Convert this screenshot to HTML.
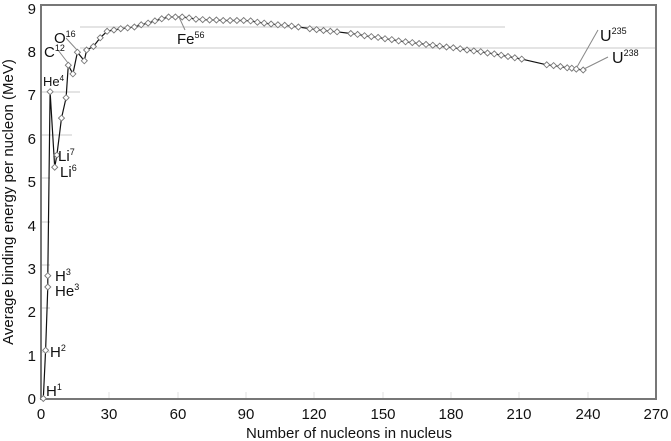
<!DOCTYPE html>
<html><head><meta charset="utf-8"><style>
html,body{margin:0;padding:0;background:#fff;}
svg{display:block;font-family:"Liberation Sans",sans-serif;}
</style></head><body>
<svg width="671" height="441" xmlns="http://www.w3.org/2000/svg">
<defs>
<marker id="m" markerUnits="userSpaceOnUse" markerWidth="8" markerHeight="8" refX="4" refY="4" overflow="visible">
<path d="M1,4 L4,1 L7,4 L4,7 Z" fill="#fff" stroke="#777" stroke-width="0.9"/>
</marker>
</defs>
<rect x="0" y="0" width="671" height="441" fill="#fff"/>
<g stroke="#c8c8c8" stroke-width="1">
<line x1="80" y1="27" x2="505" y2="27"/>
<line x1="80" y1="48" x2="655" y2="48"/>
<line x1="41" y1="92" x2="80" y2="92"/>
<line x1="41" y1="135" x2="72" y2="135"/>
<line x1="41" y1="178" x2="50" y2="178"/>
<line x1="41" y1="222" x2="50" y2="222"/>
<line x1="41" y1="265" x2="50" y2="265"/>
<line x1="41" y1="308" x2="50" y2="308"/>
<line x1="41" y1="352" x2="50" y2="352"/>
</g>
<g stroke="#e0e0e0" stroke-width="1">
<line x1="109" y1="392" x2="109" y2="398"/><line x1="178" y1="392" x2="178" y2="398"/><line x1="246" y1="392" x2="246" y2="398"/><line x1="314" y1="392" x2="314" y2="398"/><line x1="383" y1="392" x2="383" y2="398"/><line x1="451" y1="392" x2="451" y2="398"/><line x1="519" y1="392" x2="519" y2="398"/><line x1="588" y1="392" x2="588" y2="398"/>
</g>
<g stroke="#777" stroke-width="2">
<line x1="41" y1="5" x2="656" y2="5"/>
<line x1="656" y1="4" x2="656" y2="399"/>
<line x1="41" y1="4" x2="41" y2="399"/>
<line x1="40" y1="399" x2="657" y2="399"/>
</g>
<path fill="none" stroke="#111" stroke-width="1.2" marker-start="url(#m)" marker-mid="url(#m)" marker-end="url(#m)"
d="M43.3,398.5 L45.6,350.3 L47.8,287.0 L47.8,275.7 L50.1,91.7 L54.7,167.2 L56.9,155.0 L61.5,118.1 L66.1,97.7 L68.3,65.2 L72.9,73.9 L77.4,52.2 L84.3,60.8 L86.6,50.0 L93.4,46.5 L100.2,37.8 L107.1,31.3 L113.9,30.0 L120.7,28.7 L127.6,27.9 L134.4,27.0 L141.2,24.8 L148.1,23.1 L154.9,20.9 L161.7,18.8 L168.6,17.0 L175.4,17.0 L182.2,17.0 L189.1,17.9 L195.9,19.2 L202.7,19.6 L209.6,20.0 L216.4,20.0 L223.2,20.5 L230.1,20.5 L236.9,20.5 L243.7,20.5 L250.6,20.9 L257.4,22.2 L264.2,23.1 L271.1,24.0 L277.9,24.8 L284.7,25.3 L291.6,26.1 L298.4,27.0 L309.8,28.7 L316.6,29.6 L323.5,30.5 L330.3,31.3 L337.1,31.8 L350.8,33.5 L357.6,34.4 L364.5,35.7 L371.3,36.6 L378.1,37.4 L385.0,38.7 L391.8,39.6 L398.6,40.9 L405.5,41.8 L412.3,42.6 L419.1,43.5 L426.0,44.4 L432.8,45.2 L439.7,46.1 L446.5,47.0 L453.3,47.8 L460.2,48.7 L467.0,50.0 L473.8,50.9 L480.7,51.7 L487.5,53.0 L494.3,53.9 L501.2,55.2 L508.0,56.5 L514.8,57.8 L521.7,59.1 L546.7,64.8 L553.6,65.6 L560.4,66.5 L567.2,67.8 L571.8,68.2 L576.3,69.1 L583.2,70.0"/>
<g stroke="#888" stroke-width="1" fill="none">
<line x1="58" y1="50" x2="68" y2="63"/>
<line x1="66" y1="38" x2="77" y2="50"/>
<line x1="185" y1="30" x2="179" y2="17"/>
<line x1="598" y1="30" x2="577" y2="67"/>
<line x1="608" y1="57" x2="584" y2="69"/>
</g>
<g font-size="15" fill="#111" text-anchor="end">
<text x="36" y="404">0</text><text x="36" y="361">1</text><text x="36" y="317">2</text><text x="36" y="274">3</text><text x="36" y="231">4</text><text x="36" y="187">5</text><text x="36" y="144">6</text><text x="36" y="100">7</text><text x="36" y="57">8</text><text x="36" y="14">9</text>
</g>
<g font-size="15" fill="#111" text-anchor="middle">
<text x="41" y="419">0</text><text x="109" y="419">30</text><text x="178" y="419">60</text><text x="246" y="419">90</text><text x="314" y="419">120</text><text x="383" y="419">150</text><text x="451" y="419">180</text><text x="519" y="419">210</text><text x="588" y="419">240</text><text x="656" y="419">270</text>
<text x="349" y="438">Number of nucleons in nucleus</text>
<text transform="translate(13,202) rotate(-90)">Average binding energy per nucleon (MeV)</text>
</g>
<g font-size="15" fill="#111">
<text x="46" y="396">H<tspan font-size="9" dy="-6">1</tspan></text>
<text x="50" y="357">H<tspan font-size="9" dy="-6">2</tspan></text>
<text x="55" y="281">H<tspan font-size="9" dy="-6">3</tspan></text>
<text x="55" y="296">He<tspan font-size="9" dy="-6">3</tspan></text>
<text x="58" y="161">Li<tspan font-size="9" dy="-6">7</tspan></text>
<text x="60" y="177">Li<tspan font-size="9" dy="-6">6</tspan></text>
<text x="43" y="86" font-size="13">He<tspan font-size="8" dy="-5">4</tspan></text>
<text x="44" y="57">C<tspan font-size="9" dy="-6">12</tspan></text>
<text x="54" y="43">O<tspan font-size="9" dy="-6">16</tspan></text>
<text x="177" y="44">Fe<tspan font-size="9" dy="-6">56</tspan></text>
<text x="600" y="41" font-size="16">U<tspan font-size="9" dy="-7">235</tspan></text>
<text x="612" y="63" font-size="16">U<tspan font-size="9" dy="-7">238</tspan></text>
</g>
</svg>
</body></html>
